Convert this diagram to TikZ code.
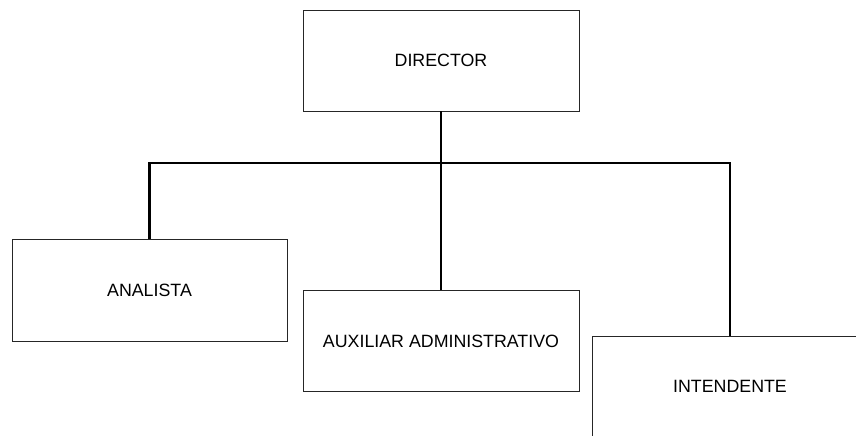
\documentclass[tikz,border=0pt]{standalone}
\usepackage{fontspec}
\setmainfont{Liberation Sans}
\begin{document}
\begin{tikzpicture}[x=1pt,y=-1pt,
  box/.style={draw=black!85,line width=0.9pt,fill=white,minimum width=276pt,minimum height=101pt,inner sep=0pt,font=\fontsize{17.8}{20}\selectfont},
  conn/.style={draw=black,line width=2.2pt}]
\useasboundingbox (0,0) rectangle (856,436);
\clip (0,0) rectangle (856,436);
\node[box] (dir) at (441,60.5) {DIRECTOR};
\node[box,minimum width=275pt,minimum height=102pt] (ana) at (149.5,290) {ANALISTA};
\node[box] (aux) at (441,341) {AUXILIAR ADMINISTRATIVO};
\node[box] (int) at (730,386.5) {\raisebox{-1.5pt}{INTENDENTE}};
\coordinate (bus) at (441,163);
\draw[conn] (dir.south) -- (aux.north);
\draw[conn] (ana.north) |- (bus) -| (int.north);
\end{tikzpicture}
\end{document}
